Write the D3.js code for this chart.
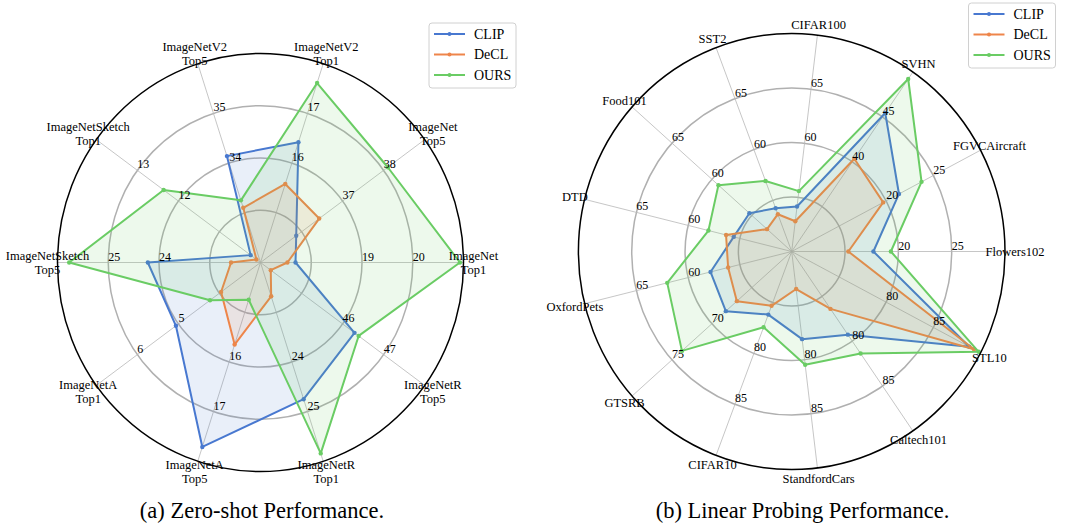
<!DOCTYPE html>
<html>
<head>
<meta charset="utf-8">
<script src="https://cdn.jsdelivr.net/npm/d3@7"></script>
<style>
  body { margin: 0; background: #fff; }
  svg text { font-family: "Liberation Serif", "Times New Roman", serif; fill: #000; }
</style>
</head>
<body>
<svg id="chart" width="1071" height="524"></svg>
<script>
// Series names and colours
const seriesNames = ['CLIP', 'DeCL', 'OURS'];
const colors = ['#4878d0', '#ee854a', '#6acc64'];

// (a) Zero-shot
const zsAxes = ['ImageNet\nTop1', 'ImageNet\nTop5', 'ImageNetV2\nTop1', 'ImageNetV2\nTop5',
  'ImageNetSketch\nTop1', 'ImageNetSketch\nTop5', 'ImageNetA\nTop1', 'ImageNetA\nTop5',
  'ImageNetR\nTop1', 'ImageNetR\nTop5'];
// tick labels shown on the 2nd and 3rd ring of each axis
const zsTicks = [[19, 20], [37, 38], [16, 17], [34, 35], [12, 13], [24, 25], [5, 6], [16, 17], [24, 25], [46, 47]];
const zsClip = [17.69, 35.87, 16.42, 34.14, 10.24, 24.22, 5.06, 17.71, 24.75, 46.29];
const zsDecl = [17.53, 36.43, 15.58, 33.10, 10.10, 22.58, 3.96, 15.65, 22.68, 44.25];
const zsOurs = [20.93, 38.10, 17.61, 33.25, 12.36, 25.77, 4.23, 14.75, 25.84, 46.39];

// (b) Linear probing
const lpAxes = ['Flowers102', 'FGVCAircraft', 'SVHN', 'CIFAR100', 'SST2', 'Food101', 'DTD',
  'OxfordPets', 'GTSRB', 'CIFAR10', 'StandfordCars', 'Caltech101', 'STL10'];
const lpTicks = [[20, 25], [20, 25], [40, 45], [60, 65], [60, 65], [60, 65], [60, 65],
  [60, 65], [70, 75], [80, 85], [80, 85], [80, 85], [80, 85]];
const lpClip = [17.66, 21.36, 45.44, 54.16, 54.25, 55.30, 55.60, 57.84, 68.25, 76.19, 78.10, 79.27, 88.80];
const lpDecl = [15.31, 19.69, 40.34, 52.80, 53.66, 53.09, 56.34, 56.14, 66.87, 75.33, 73.47, 76.40, 89.30];
const lpOurs = [19.30, 23.75, 49.23, 55.58, 56.92, 59.18, 58.04, 62.02, 73.75, 77.43, 80.47, 81.37, 89.80];

const captions = ['(a) Zero-shot Performance.', '(b) Linear Probing Performance.'];

const svg = d3.select('#chart');

function radar(opt) {
  const { cx, cy, R, sy, axes, ticks, series, legend, caption } = opt;
  const n = axes.length;
  const g = svg.append('g');
  const ang = i => i * 2 * Math.PI / n;
  const px = (i, r) => cx + r * Math.cos(ang(i));
  const py = (i, r) => cy - r * Math.sin(ang(i)) * sy;

  // one radial scale per axis, ticks sit on rings 2 and 3
  const scales = ticks.map(t => d3.scaleLinear().domain(t).range([R * 0.5, R * 0.75]));

  // rings
  [0.25, 0.5, 0.75].forEach(f => {
    g.append('ellipse').attr('cx', cx).attr('cy', cy)
      .attr('rx', R * f).attr('ry', R * f * sy)
      .attr('fill', 'none').attr('stroke', '#b0b0b0').attr('stroke-width', 1.5);
  });

  // spokes
  g.selectAll('line.spoke').data(axes).enter().append('line')
    .attr('class', 'spoke')
    .attr('x1', cx).attr('y1', cy)
    .attr('x2', (d, i) => px(i, R)).attr('y2', (d, i) => py(i, R))
    .attr('stroke', '#b8b8b8').attr('stroke-width', 0.8);

  // series
  const line = d3.line().curve(d3.curveLinearClosed);
  series.forEach((vals, k) => {
    const pts = vals.map((v, i) => [px(i, scales[i](v)), py(i, scales[i](v))]);
    g.append('path').attr('d', line(pts))
      .attr('fill', colors[k]).attr('fill-opacity', 0.12)
      .attr('stroke', colors[k]).attr('stroke-width', 2).attr('stroke-linejoin', 'round');
    g.selectAll(null).data(pts).enter().append('circle')
      .attr('cx', d => d[0]).attr('cy', d => d[1]).attr('r', 2.2)
      .attr('fill', colors[k]);
  });

  // outer frame
  g.append('ellipse').attr('cx', cx).attr('cy', cy)
    .attr('rx', R).attr('ry', R * sy)
    .attr('fill', 'none').attr('stroke', '#000').attr('stroke-width', 1.5);

  // tick labels
  ticks.forEach((t, i) => {
    t.forEach(v => {
      const r = scales[i](v);
      g.append('text').attr('x', px(i, r)).attr('y', py(i, r) - 2)
        .attr('font-size', 12).text(v);
    });
  });

  // axis labels
  axes.forEach((name, i) => {
    const lines = name.split('\n');
    const lr = R + 10;
    const t = g.append('text')
      .attr('x', px(i, lr)).attr('y', py(i, lr))
      .attr('text-anchor', 'middle').attr('font-size', 12.5);
    lines.forEach((s, j) => {
      t.append('tspan').attr('x', px(i, lr))
        .attr('dy', j === 0 ? (4.5 - (lines.length - 1) * 7) + 'px' : '14px')
        .text(s);
    });
  });

  // legend
  const lg = g.append('g').attr('transform', `translate(${legend[0]},${legend[1]})`);
  lg.append('rect').attr('width', 87).attr('height', 65).attr('rx', 3)
    .attr('fill', '#fff').attr('fill-opacity', 0.8)
    .attr('stroke', '#d0d0d0').attr('stroke-width', 1);
  seriesNames.forEach((s, k) => {
    const y = 11 + k * 20.5;
    lg.append('line').attr('x1', 5).attr('x2', 36).attr('y1', y).attr('y2', y)
      .attr('stroke', colors[k]).attr('stroke-width', 2);
    lg.append('circle').attr('cx', 20.5).attr('cy', y).attr('r', 2).attr('fill', colors[k]);
    lg.append('text').attr('x', 45).attr('y', y + 4.8).attr('font-size', 14).text(s);
  });

  // caption
  svg.append('text').attr('x', caption[1]).attr('y', caption[2])
    .attr('text-anchor', 'middle').attr('font-size', 22.5).text(caption[0]);
}

radar({
  cx: 260.5, cy: 262.5, R: 203, sy: 1.03,
  axes: zsAxes, ticks: zsTicks, series: [zsClip, zsDecl, zsOurs],
  legend: [429, 23], caption: [captions[0], 262, 518]
});

radar({
  cx: 791.7, cy: 251.5, R: 213.3, sy: 1.022,
  axes: lpAxes, ticks: lpTicks, series: [lpClip, lpDecl, lpOurs],
  legend: [968.5, 3], caption: [captions[1], 802.5, 518]
});
</script>
</body>
</html>
